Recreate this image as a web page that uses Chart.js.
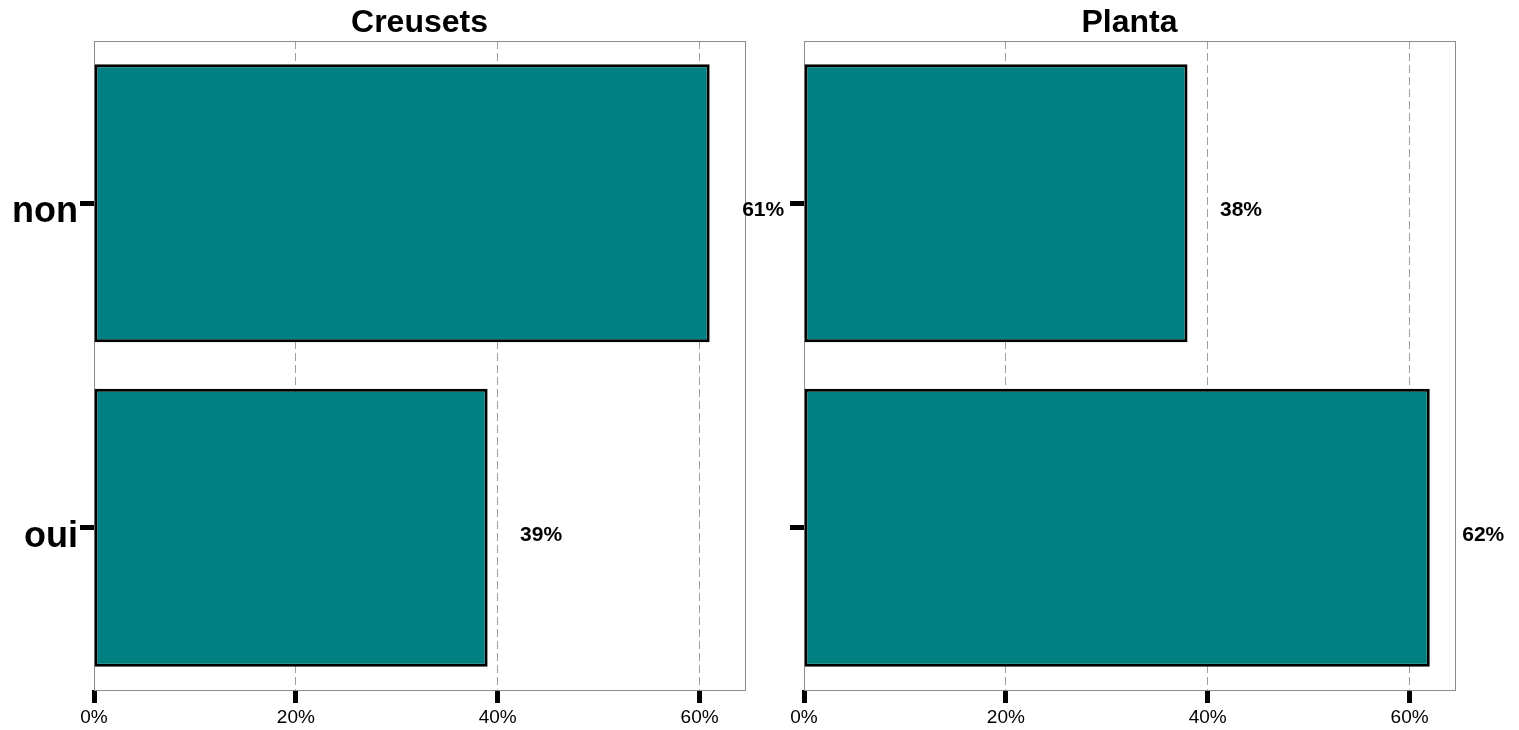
<!DOCTYPE html>
<html>
<head>
<meta charset="utf-8">
<script src="https://cdn.jsdelivr.net/npm/chart.js@4/dist/chart.umd.min.js"></script>
<style>
  body { margin: 0; background: #fff; }
  .panel { position: absolute; top: 0; }
</style>
</head>
<body>
<div class="panel" style="left:0"><canvas id="chartLeft" width="800" height="730"></canvas></div>
<div class="panel" style="left:760px"><canvas id="chartRight" width="759" height="730"></canvas></div>
<script>
const categories = ['non', 'oui'];
const panelTitles = ['Creusets', 'Planta'];
const creusetsValues = [61, 39];
const plantaValues = [38, 62];
const xTicks = [0, 20, 40, 60];
const xMax = 64.5;
const labelNudge = 5.3;

const FONT = "'Liberation Sans', Arial, sans-serif";

const panelDecor = {
    id: 'panelDecor',
    beforeDatasetsDraw(chart) {
        const a = chart.chartArea;
        const ctx = chart.ctx;
        ctx.save();
        ctx.strokeStyle = '#8c8c8c';
        ctx.lineWidth = 1;
        ctx.strokeRect(a.left + 0.5, a.top + 0.5, a.right - a.left, a.bottom - a.top);
        ctx.restore();
    },
    afterDatasetsDraw(chart) {
        const ctx = chart.ctx;
        const a = chart.chartArea;
        const xScale = chart.scales.x;
        ctx.save();
        ctx.fillStyle = '#000';
        ctx.textAlign = 'center';
        ctx.textBaseline = 'middle';
        ctx.font = 'bold 32px ' + FONT;
        ctx.fillText(chart.options.plugins.panelDecor.title, (a.left + a.right) / 2, 23);
        ctx.font = 'bold 21px ' + FONT;
        const data = chart.data.datasets[0].data;
        chart.getDatasetMeta(0).data.forEach(function(bar, i) {
            const x = xScale.getPixelForValue(data[i] + labelNudge);
            ctx.fillText(data[i] + '%', x, bar.y + 7);
        });
        ctx.restore();
    }
};

function makeChart(id, title, values, yWidth, padRight, showLabels) {
    const ctx = document.getElementById(id).getContext('2d');
    return new Chart(ctx, {
        type: 'bar',
        data: {
            labels: categories,
            datasets: [{
                data: values,
                backgroundColor: '#008080',
                borderColor: '#000',
                borderWidth: 3,
                borderSkipped: false,
                barPercentage: 0.857,
                categoryPercentage: 1
            }]
        },
        plugins: [panelDecor],
        options: {
            indexAxis: 'y',
            responsive: false,
            animation: false,
            layout: { padding: { top: 41, right: padRight, left: 0, bottom: 0 } },
            plugins: {
                legend: { display: false },
                tooltip: { enabled: false },
                panelDecor: { title: title }
            },
            scales: {
                x: {
                    min: 0,
                    max: xMax,
                    afterFit: function(scale) { scale.height = 40; },
                    afterBuildTicks: function(scale) {
                        scale.ticks = xTicks.map(function(v) { return { value: v }; });
                    },
                    ticks: {
                        callback: function(v) { return v + '%'; },
                        color: '#000',
                        padding: 3,
                        font: { family: FONT, size: 19 }
                    },
                    grid: {
                        color: function(c) { return c.tick && c.tick.value === 0 ? 'rgba(0,0,0,0)' : '#a0a0a0'; },
                        lineWidth: 1,
                        tickColor: '#000',
                        tickWidth: 5,
                        tickLength: 13
                    },
                    border: { display: false, dash: [8, 4] }
                },
                y: {
                    afterFit: function(scale) { scale.width = yWidth; },
                    ticks: {
                        display: true,
                        color: showLabels ? '#000' : 'rgba(0,0,0,0)',
                        padding: 2,
                        labelOffset: 9,
                        font: { family: FONT, size: 36, weight: 'bold' }
                    },
                    grid: {
                        offset: false,
                        drawOnChartArea: false,
                        tickColor: '#000',
                        tickWidth: 5,
                        tickLength: 14
                    },
                    border: { display: false }
                }
            }
        }
    });
}

makeChart('chartLeft', panelTitles[0], creusetsValues, 94, 55, true);
makeChart('chartRight', panelTitles[1], plantaValues, 44, 64, false);
</script>
</body>
</html>
